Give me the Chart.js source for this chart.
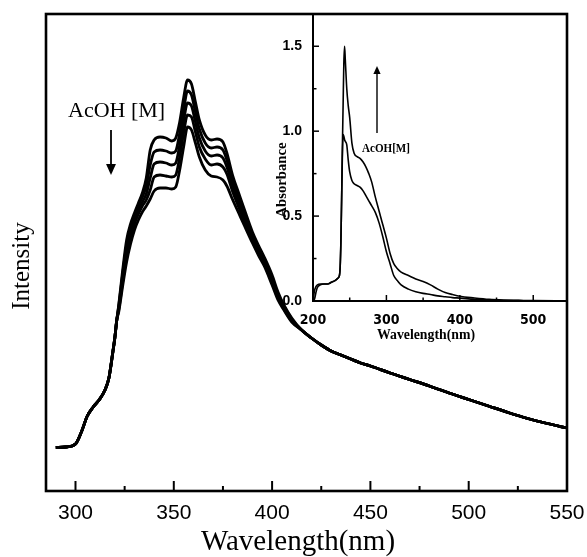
<!DOCTYPE html>
<html>
<head>
<meta charset="utf-8">
<script src="https://cdn.jsdelivr.net/npm/chart.js@4.4.1/dist/chart.umd.min.js"></script>
<style>
  html, body { margin: 0; padding: 0; background: #fff; }
  #wrap { position: relative; width: 587px; height: 557px; }
  canvas { position: absolute; top: 0; }
</style>
</head>
<body>
<div id="wrap">
  <canvas id="main" width="587" height="557" style="left:0"></canvas>
  <canvas id="inset" width="337" height="357" style="left:250px"></canvas>
</div>
<script>
// ---------- Main emission spectra (arbitrary intensity units) ----------
const leadNm = [290,295,300,303,306,309,312,315,317,319,320,321];
const leadI  = [0.435,0.44,0.47,0.59,0.75,0.84,0.91,1.01,1.13,1.39,1.53,1.71];

const peakNm = [322,324,326,328,330,332,334,336,338,340,343,346,349,351,353,355,357,359,361,363,366,369,372,375,377,380,383,386,390,393,396,400,403,406,410];
const acoh1 = [1.86,2.21,2.51,2.67,2.78,2.88,2.98,3.13,3.41,3.51,3.54,3.53,3.50,3.53,3.69,3.93,4.11,4.07,3.89,3.71,3.56,3.51,3.52,3.49,3.38,3.15,2.98,2.81,2.59,2.46,2.34,2.16,1.99,1.86,1.73];
const acoh2 = [1.85,2.17,2.46,2.63,2.75,2.85,2.94,3.05,3.26,3.39,3.41,3.40,3.38,3.40,3.58,3.81,4.00,3.96,3.79,3.62,3.48,3.43,3.44,3.41,3.31,3.10,2.93,2.77,2.56,2.43,2.31,2.13,1.97,1.85,1.72];
const acoh3 = [1.83,2.13,2.41,2.58,2.71,2.81,2.89,2.97,3.13,3.27,3.29,3.28,3.26,3.28,3.46,3.70,3.88,3.85,3.69,3.53,3.40,3.35,3.36,3.33,3.24,3.05,2.88,2.73,2.53,2.41,2.29,2.10,1.95,1.84,1.71];
const acoh4 = [1.81,2.09,2.35,2.53,2.67,2.77,2.85,2.91,3.01,3.14,3.16,3.15,3.14,3.16,3.34,3.58,3.76,3.74,3.59,3.44,3.32,3.26,3.27,3.24,3.17,2.99,2.84,2.69,2.50,2.38,2.27,2.08,1.93,1.82,1.70];
const acoh5 = [1.79,2.05,2.29,2.47,2.61,2.71,2.79,2.85,2.92,3.00,3.03,3.03,3.02,3.04,3.21,3.44,3.64,3.61,3.48,3.34,3.21,3.15,3.14,3.11,3.05,2.91,2.78,2.65,2.48,2.36,2.25,2.06,1.91,1.81,1.69];

const tailNm = [415,420,425,430,435,440,445,450,460,470,480,490,500,510,520,530,540,550];
const tailI  = [1.61,1.53,1.46,1.40,1.36,1.32,1.28,1.25,1.18,1.115,1.05,0.98,0.915,0.85,0.785,0.725,0.675,0.63];

const mainXTicks = [300,350,400,450,500,550];
const mainXMinor = [325,375,425,475,525];

// ---------- Inset absorption spectra ----------
const absNm = [200,202,204,206,210,215,220,225,230,234,236,237,238,239,240,241,242,243,244,246,248,250,253,256,260,264,268,272,276,280,285,290,295,300,305,310,315,320,330,340,350,360,370,380,390,400,420,440,460,480,500,546];
const absBefore = [0.00,0.01,0.05,0.08,0.095,0.10,0.10,0.11,0.12,0.135,0.15,0.20,0.35,0.60,0.85,0.98,0.97,0.95,0.94,0.92,0.83,0.76,0.71,0.69,0.68,0.67,0.65,0.62,0.59,0.56,0.52,0.46,0.38,0.29,0.22,0.15,0.12,0.095,0.07,0.055,0.045,0.038,0.03,0.025,0.02,0.017,0.01,0.006,0.003,0.002,0.001,0.0];
const absAfter  = [0.00,0.06,0.085,0.095,0.10,0.10,0.10,0.11,0.12,0.135,0.15,0.20,0.35,0.60,0.90,1.15,1.40,1.50,1.42,1.25,1.15,1.08,0.93,0.87,0.85,0.84,0.82,0.79,0.75,0.70,0.61,0.53,0.45,0.37,0.28,0.22,0.19,0.17,0.15,0.13,0.115,0.095,0.07,0.05,0.038,0.028,0.018,0.01,0.006,0.004,0.002,0.0];

const insetXTicks = [200,300,400,500];
const insetXMinor = [250,350,450];
const insetYTicks = [0,0.5,1.0,1.5];
const insetYMinor = [0.25,0.75,1.25];

// ---------- helpers ----------
function toPoints(xs, ys) { return xs.map((x, i) => ({ x: x, y: ys[i] })); }
function emission(mid) {
  return toPoints(leadNm, leadI).concat(toPoints(peakNm, mid), toPoints(tailNm, tailI));
}
function drawText(ctx, text, x, y, font, opts) {
  opts = opts || {};
  ctx.save();
  ctx.font = font;
  ctx.fillStyle = '#000';
  ctx.textAlign = opts.align || 'center';
  ctx.textBaseline = opts.baseline || 'alphabetic';
  ctx.translate(x, y);
  if (opts.rotate) ctx.rotate(opts.rotate);
  let sx = 1;
  if (opts.width) sx = opts.width / ctx.measureText(text).width;
  ctx.scale(sx, 1);
  ctx.fillText(text, 0, 0);
  ctx.restore();
}
function arrow(ctx, x, y0, y1, head, lw) {
  const dir = Math.sign(y1 - y0);
  ctx.save();
  ctx.strokeStyle = '#000'; ctx.fillStyle = '#000'; ctx.lineWidth = lw;
  ctx.beginPath(); ctx.moveTo(x, y0); ctx.lineTo(x, y1 - dir * head); ctx.stroke();
  ctx.beginPath();
  ctx.moveTo(x, y1);
  ctx.lineTo(x - head * 0.45, y1 - dir * head);
  ctx.lineTo(x + head * 0.45, y1 - dir * head);
  ctx.closePath(); ctx.fill();
  ctx.restore();
}
function tickLine(ctx, x0, y0, x1, y1, lw) {
  ctx.save(); ctx.strokeStyle = '#000'; ctx.lineWidth = lw;
  ctx.beginPath(); ctx.moveTo(x0, y0); ctx.lineTo(x1, y1); ctx.stroke(); ctx.restore();
}

const lineStyle = { borderColor: '#000', borderWidth: 2.8, pointRadius: 0, fill: false, cubicInterpolationMode: 'monotone' };

// ---------- main chart ----------
const mainDecor = {
  id: 'mainDecor',
  afterDraw(chart) {
    const ctx = chart.ctx, a = chart.chartArea, x = chart.scales.x;
    ctx.save();
    ctx.strokeStyle = '#000'; ctx.lineWidth = 2.6;
    ctx.strokeRect(a.left, a.top, a.right - a.left, a.bottom - a.top);
    ctx.restore();
    mainXTicks.forEach(v => { const p = x.getPixelForValue(v); tickLine(ctx, p, a.bottom, p, a.bottom - 10, 2); });
    mainXMinor.forEach(v => { const p = x.getPixelForValue(v); tickLine(ctx, p, a.bottom, p, a.bottom - 5, 2); });
    drawText(ctx, 'Wavelength(nm)', 298, 550, '29px "Liberation Serif", serif');
    drawText(ctx, 'Intensity', 29, 266, '25px "Liberation Serif", serif', { rotate: -Math.PI / 2 });
    drawText(ctx, 'AcOH [M]', 68, 117, '22px "Liberation Serif", serif', { align: 'left' });
    arrow(ctx, 111, 130, 175, 11, 1.8);
  }
};

new Chart(document.getElementById('main'), {
  type: 'line',
  data: {
    datasets: [acoh1, acoh2, acoh3, acoh4, acoh5].map(d => Object.assign({ data: emission(d) }, lineStyle))
  },
  options: {
    responsive: false, animation: false, devicePixelRatio: 1,
    layout: { padding: { left: 46, right: 20, top: 14, bottom: 0 } },
    plugins: { legend: { display: false }, tooltip: { enabled: false } },
    scales: {
      x: {
        type: 'linear', min: 285, max: 550,
        grid: { display: false }, border: { display: false },
        ticks: { color: '#000', font: { family: '"Liberation Sans", Arial, sans-serif', size: 21 }, padding: 2, maxRotation: 0 },
        afterBuildTicks: s => { s.ticks = mainXTicks.map(v => ({ value: v })); },
        afterFit: s => { s.height = 66; s.paddingLeft = 0; s.paddingRight = 0; }
      },
      y: { display: false, min: 0, max: 4.77 }
    }
  },
  plugins: [mainDecor]
});

// ---------- inset chart ----------
const insetDecor = {
  id: 'insetDecor',
  afterDraw(chart) {
    const ctx = chart.ctx, a = chart.chartArea, x = chart.scales.x, y = chart.scales.y;
    ctx.save();
    ctx.strokeStyle = '#000'; ctx.lineWidth = 2;
    ctx.strokeRect(a.left, a.top, a.right - a.left, a.bottom - a.top);
    ctx.restore();
    insetXTicks.forEach(v => { const p = x.getPixelForValue(v); tickLine(ctx, p, a.bottom, p, a.bottom - 6, 1.5); });
    insetXMinor.forEach(v => { const p = x.getPixelForValue(v); tickLine(ctx, p, a.bottom, p, a.bottom - 3.5, 1.5); });
    insetYTicks.forEach(v => { const p = y.getPixelForValue(v); tickLine(ctx, a.left, p, a.left + 6, p, 1.5); });
    insetYMinor.forEach(v => { const p = y.getPixelForValue(v); tickLine(ctx, a.left, p, a.left + 3.5, p, 1.5); });
    drawText(ctx, 'Wavelength(nm)', 176, 339, 'bold 15px "Liberation Serif", serif', { width: 98 });
    drawText(ctx, 'Absorbance', 36, 180, 'bold 15px "Liberation Serif", serif', { rotate: -Math.PI / 2, width: 75 });
    drawText(ctx, 'AcOH[M]', 112, 152, 'bold 13px "Liberation Serif", serif', { align: 'left', width: 48 });
    arrow(ctx, 127, 133, 66, 8, 1.4);
  }
};

new Chart(document.getElementById('inset'), {
  type: 'line',
  data: {
    datasets: [
      Object.assign({ data: toPoints(absNm, absBefore) }, lineStyle, { borderWidth: 1.6 }),
      Object.assign({ data: toPoints(absNm, absAfter) }, lineStyle, { borderWidth: 1.6 })
    ]
  },
  options: {
    responsive: false, animation: false, devicePixelRatio: 1,
    layout: { padding: { left: 0, right: 20, top: 14, bottom: 0 } },
    plugins: { legend: { display: false }, tooltip: { enabled: false } },
    scales: {
      x: {
        type: 'linear', min: 200, max: 546,
        grid: { display: false }, border: { display: false },
        ticks: { color: '#000', font: { family: '"Liberation Sans Narrow", "DejaVu Sans Condensed", "Liberation Sans", sans-serif', size: 14, weight: 'bold' }, padding: 3, maxRotation: 0 },
        afterBuildTicks: s => { s.ticks = insetXTicks.map(v => ({ value: v })); },
        afterFit: s => { s.height = 56; s.paddingLeft = 0; s.paddingRight = 0; }
      },
      y: {
        min: 0, max: 1.69,
        grid: { display: false }, border: { display: false },
        ticks: { color: '#000', font: { family: '"Liberation Sans", Arial, sans-serif', size: 14, weight: 'bold' }, padding: 3, callback: v => Number(v).toFixed(1) },
        afterBuildTicks: s => { s.ticks = insetYTicks.map(v => ({ value: v })); },
        afterFit: s => { s.width = 63; s.paddingTop = 0; s.paddingBottom = 0; }
      }
    }
  },
  plugins: [insetDecor]
});
</script>
</body>
</html>
